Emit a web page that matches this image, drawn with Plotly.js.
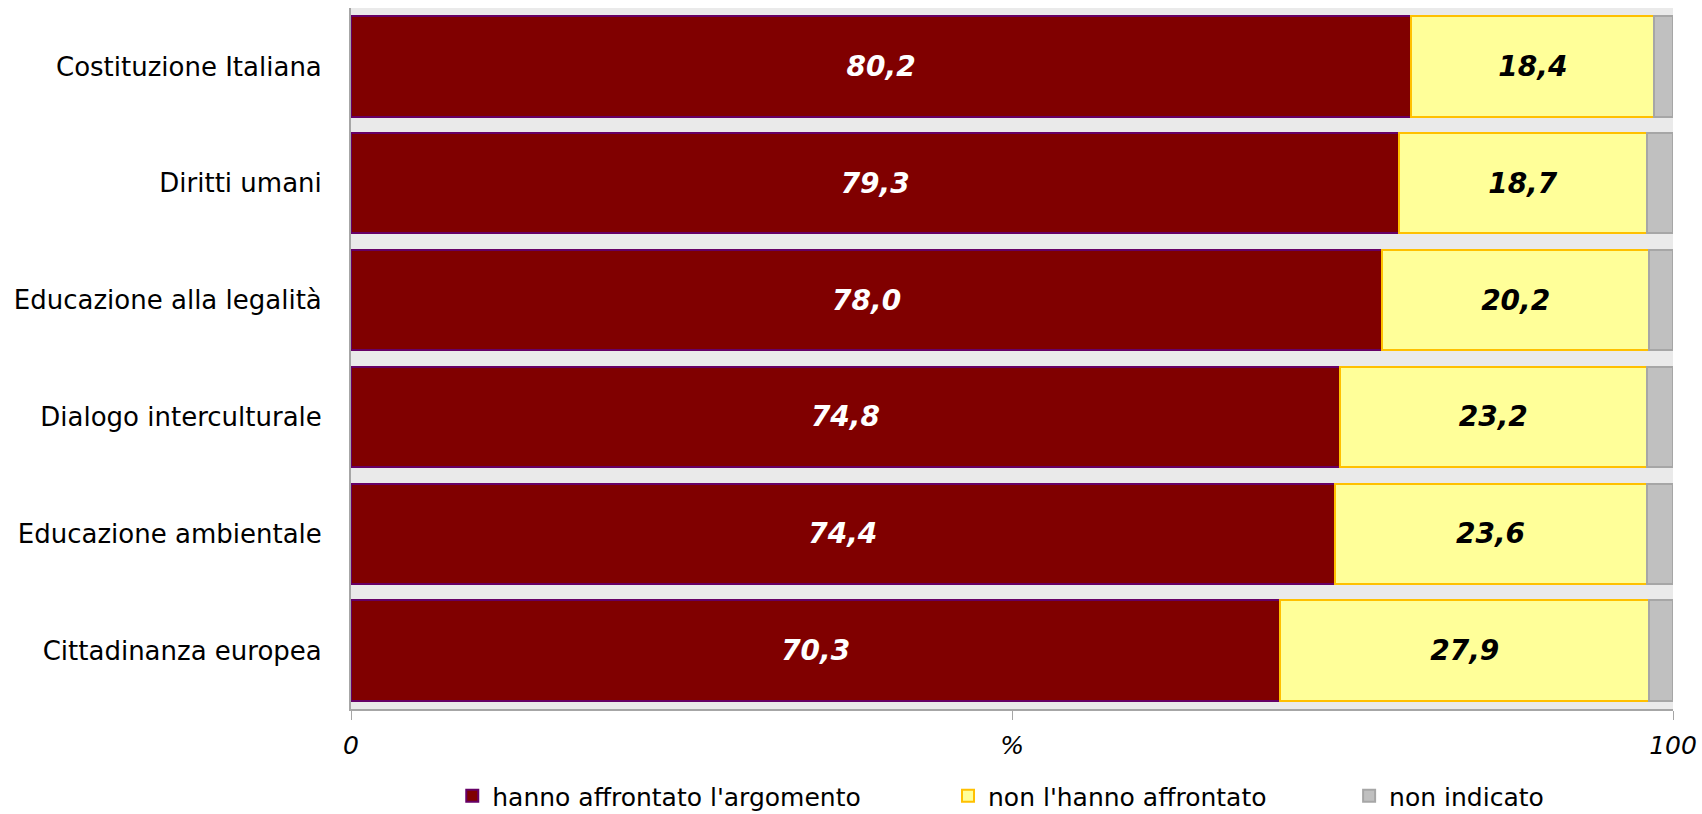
<!DOCTYPE html>
<html>
<head>
<meta charset="utf-8">
<script src="https://cdn.plot.ly/plotly-3.0.1.min.js"></script>
<style>
  html, body { margin: 0; padding: 0; background: #ffffff; }
  #chart { width: 1702px; height: 814px; }
</style>
</head>
<body>
<div id="chart"></div>
<script>
const categories = [
  "Costituzione Italiana",
  "Diritti umani",
  "Educazione alla legalità",
  "Dialogo interculturale",
  "Educazione ambientale",
  "Cittadinanza europea"
];
const seriesNames = ["hanno affrontato l'argomento", "non l'hanno affrontato", "non indicato"];
const affrontato = [80.2, 79.3, 78.0, 74.8, 74.4, 70.3];
const nonAffrontato = [18.4, 18.7, 20.2, 23.2, 23.6, 27.9];
const nonIndicato = [1.4, 2.0, 1.8, 2.0, 2.0, 1.8];
const tickValues = [0, 50, 100];
const tickLabels = ["0", "%", "100"];

const FONT = "DejaVu Sans, Verdana, sans-serif";

const traces = [
  {
    type: "bar", orientation: "h", name: seriesNames[0],
    y: categories, x: affrontato,
    marker: { color: "#800000", line: { color: "#660066", width: 2 } },
    texttemplate: "%{x:.1f}", textposition: "inside", insidetextanchor: "middle",
    insidetextfont: { family: FONT, size: 28, color: "#ffffff", weight: "bold", style: "italic" },
    legend: "legend", showlegend: true, hoverinfo: "x+name"
  },
  {
    type: "bar", orientation: "h", name: seriesNames[1],
    y: categories, x: nonAffrontato,
    marker: { color: "#FFFF99", line: { color: "#FFC000", width: 2 } },
    texttemplate: "%{x:.1f}", textposition: "inside", insidetextanchor: "middle",
    insidetextfont: { family: FONT, size: 28, color: "#000000", weight: "bold", style: "italic" },
    legend: "legend2", showlegend: true, hoverinfo: "x+name"
  },
  {
    type: "bar", orientation: "h", name: seriesNames[2],
    y: categories, x: nonIndicato,
    marker: { color: "#C0C0C0", line: { color: "#A6A6A6", width: 2 } },
    textposition: "none",
    legend: "legend3", showlegend: true, hoverinfo: "x+name"
  }
];

const legendBase = {
  orientation: "h", yref: "container", yanchor: "middle", y: 0.022, xanchor: "left",
  bgcolor: "rgba(0,0,0,0)", borderwidth: 0,
  font: { family: FONT, size: 25, color: "#000000" }
};

const layout = {
  width: 1702, height: 814,
  margin: { l: 351, r: 29, t: 8, b: 105, pad: 0 },
  paper_bgcolor: "#ffffff",
  plot_bgcolor: "#EAEAEA",
  barmode: "stack",
  bargap: 0.14,
  separators: ",.",
  showlegend: true,
  font: { family: FONT, color: "#000000" },
  xaxis: {
    range: [0, 100], tickvals: tickValues, ticktext: tickLabels,
    showgrid: false, zeroline: false,
    showline: true, linecolor: "#A6A6A6", linewidth: 2,
    ticks: "outside", ticklen: 9, tickwidth: 1, tickcolor: "#A6A6A6",
    ticklabelstandoff: 4,
    tickfont: { family: FONT, size: 25, color: "#000000", style: "italic" },
    automargin: false, fixedrange: true
  },
  yaxis: {
    type: "category", autorange: "reversed",
    showgrid: false, zeroline: false,
    showline: true, linecolor: "#A6A6A6", linewidth: 2,
    ticks: "", ticklabelstandoff: 22,
    tickfont: { family: FONT, size: 26, color: "#000000" },
    automargin: false, fixedrange: true
  },
  legend: Object.assign({}, legendBase, { x: 0.0766 }),
  legend2: Object.assign({}, legendBase, { x: 0.4516 }),
  legend3: Object.assign({}, legendBase, { x: 0.755 })
};

Plotly.newPlot("chart", traces, layout, { displayModeBar: false, staticPlot: true });
</script>
</body>
</html>
